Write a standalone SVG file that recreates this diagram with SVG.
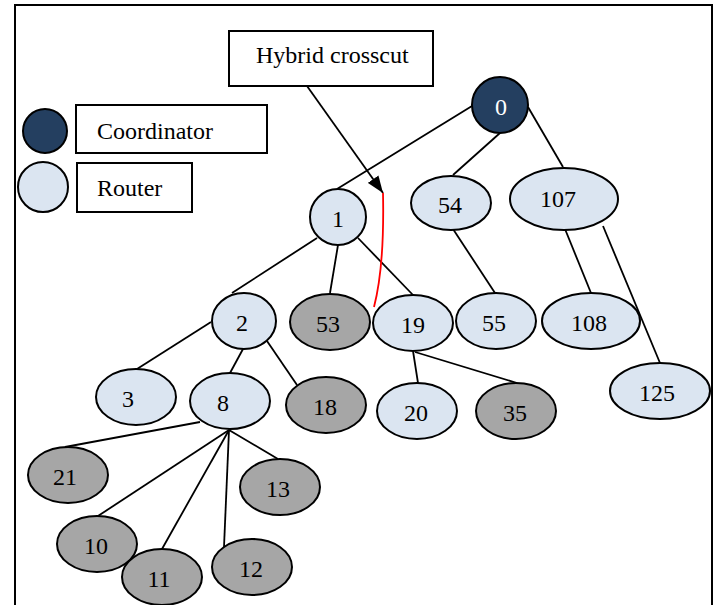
<svg xmlns="http://www.w3.org/2000/svg" width="716" height="605" viewBox="0 0 716 605">
<style>
text{font-family:"Liberation Serif","Times New Roman",serif;font-size:24px;fill:#000}
.n text{text-anchor:middle}
.r{fill:#DBE5F1;stroke:#000;stroke-width:2}
.g{fill:#A6A6A6;stroke:#000;stroke-width:2}
.d{fill:#243F60;stroke:#000;stroke-width:2}
.box{fill:#fff;stroke:#000;stroke-width:2}
#edges line{stroke:#000;stroke-width:1.8}
</style>
<defs>
<marker id="ah" viewBox="0 0 17 13" refX="17" refY="6.5" markerWidth="17" markerHeight="13" markerUnits="userSpaceOnUse" orient="auto">
<path d="M0,0 L17,6.5 L0,13 z" fill="#000"/>
</marker>
</defs>
<rect width="716" height="605" fill="#fff"/>
<path d="M15,605 V5 H712 V605" fill="none" stroke="#000" stroke-width="2"/>

<g id="legend">
<g id="legend-coordinator"><circle class="d" cx="45" cy="131" r="22"/><rect class="box" x="76" y="105" width="191" height="48"/><text x="97" y="139">Coordinator</text></g>
<g id="legend-router"><circle class="r" cx="43" cy="187" r="25"/><rect class="box" x="77" y="163" width="115" height="49"/><text x="97" y="196">Router</text></g>
</g>

<g id="callout">
<rect class="box" x="229" y="31" width="204" height="55"/>
<text x="256" y="63">Hybrid crosscut</text>
</g>

<g id="edges">
<line x1="472" y1="106" x2="337" y2="189"/>
<line x1="500" y1="133" x2="453" y2="175"/>
<line x1="528" y1="107" x2="563" y2="167"/>
<line x1="453" y1="229" x2="495" y2="293"/>
<line x1="565" y1="229" x2="591" y2="293"/>
<line x1="603" y1="226" x2="660" y2="363"/>
<line x1="317" y1="238" x2="232" y2="293"/>
<line x1="338" y1="245" x2="330" y2="293"/>
<line x1="358" y1="238" x2="413" y2="295"/>
<line x1="413" y1="351" x2="418" y2="383"/>
<line x1="415" y1="352" x2="517" y2="383"/>
<line x1="211" y1="322" x2="137" y2="369"/>
<line x1="243" y1="349" x2="230" y2="373"/>
<line x1="267" y1="341" x2="297" y2="385"/>
<line x1="200" y1="422" x2="65" y2="447"/>
<line x1="229" y1="430" x2="98" y2="516"/>
<line x1="229" y1="430" x2="162" y2="549"/>
<line x1="229" y1="430" x2="224" y2="547"/>
<line x1="229" y1="430" x2="278" y2="459"/>
<line x1="307" y1="86" x2="383" y2="193" stroke-width="2.2" marker-end="url(#ah)"/>
<path d="M383,193 C384,240 381,280 374,307" fill="none" stroke="#FF0000" stroke-width="1.8"/>
</g>

<g class="n">
<g id="n0"><circle class="d" cx="500" cy="105" r="28"/><text x="501" y="115" style="fill:#fff">0</text></g>
<g id="n1"><circle class="r" cx="338" cy="217" r="28"/><text x="338" y="227">1</text></g>
<g id="n54"><ellipse class="r" cx="451" cy="203" rx="40" ry="27"/><text x="450" y="213">54</text></g>
<g id="n107"><ellipse class="r" cx="564" cy="199" rx="54" ry="31"/><text x="558" y="207">107</text></g>
<g id="n2"><ellipse class="r" cx="244" cy="321" rx="32" ry="28"/><text x="242" y="331">2</text></g>
<g id="n53"><ellipse class="g" cx="330" cy="322" rx="40" ry="28"/><text x="328" y="332">53</text></g>
<g id="n19"><ellipse class="r" cx="413" cy="323" rx="40" ry="28"/><text x="413" y="333">19</text></g>
<g id="n55"><ellipse class="r" cx="496" cy="321" rx="40" ry="28"/><text x="494" y="331">55</text></g>
<g id="n108"><ellipse class="r" cx="591" cy="321" rx="49" ry="28"/><text x="589" y="331">108</text></g>
<g id="n125"><ellipse class="r" cx="660" cy="391" rx="50" ry="28"/><text x="657" y="401">125</text></g>
<g id="n20"><ellipse class="r" cx="417" cy="411" rx="40" ry="28"/><text x="416" y="421">20</text></g>
<g id="n35"><ellipse class="g" cx="516" cy="411" rx="40" ry="28"/><text x="515" y="421">35</text></g>
<g id="n3"><ellipse class="r" cx="136" cy="397" rx="40" ry="28"/><text x="128" y="407">3</text></g>
<g id="n8"><ellipse class="r" cx="230" cy="401" rx="40" ry="28"/><text x="223" y="411">8</text></g>
<g id="n18"><ellipse class="g" cx="326" cy="405" rx="40" ry="28"/><text x="325" y="415">18</text></g>
<g id="n21"><ellipse class="g" cx="68" cy="475" rx="40" ry="28"/><text x="65" y="485">21</text></g>
<g id="n13"><ellipse class="g" cx="280" cy="487" rx="40" ry="28"/><text x="278" y="497">13</text></g>
<g id="n10"><ellipse class="g" cx="97" cy="544" rx="40" ry="28"/><text x="96" y="554">10</text></g>
<g id="n11"><ellipse class="g" cx="162" cy="577" rx="40" ry="28"/><text x="159" y="587">11</text></g>
<g id="n12"><ellipse class="g" cx="252" cy="567" rx="40" ry="28"/><text x="251" y="577">12</text></g>
</g>
</svg>
